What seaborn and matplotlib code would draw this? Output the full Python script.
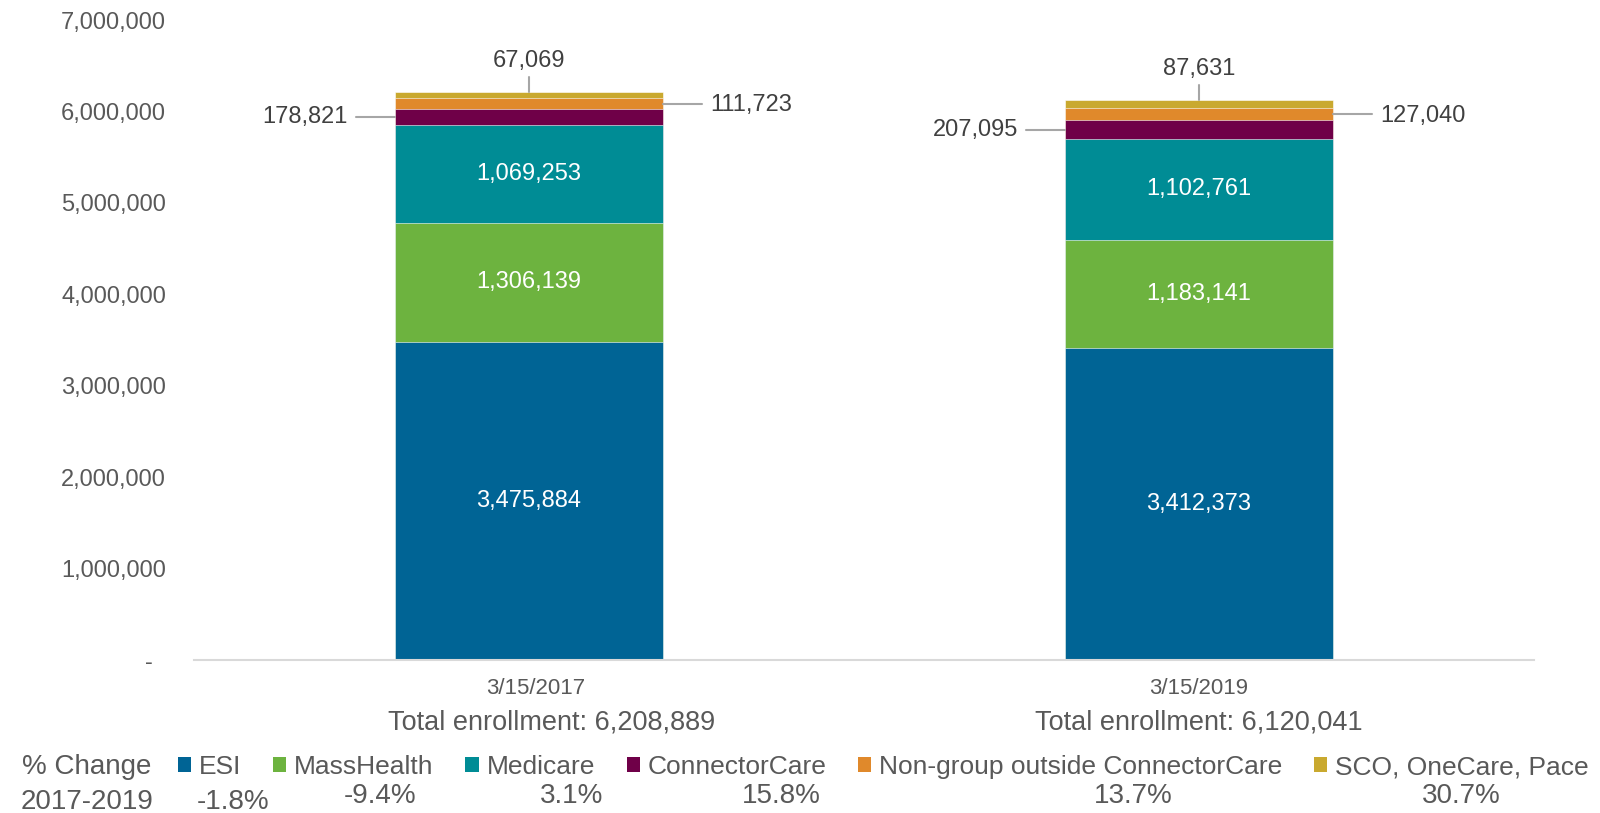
import numpy as np
import pandas as pd
import matplotlib
matplotlib.use("Agg")
import matplotlib.pyplot as plt
import seaborn as sns
from matplotlib.patches import Patch
from matplotlib.ticker import FuncFormatter

# ---------------- data ----------------
dates = ["3/15/2017", "3/15/2019"]
totals_text = ["Total enrollment: 6,208,889", "Total enrollment: 6,120,041"]
segments = ["ESI", "MassHealth", "Medicare", "ConnectorCare",
            "Non-group outside ConnectorCare", "SCO, OneCare, Pace"]
esi = [3475884, 3412373]
masshealth = [1306139, 1183141]
medicare = [1069253, 1102761]
connectorcare = [178821, 207095]
nongroup = [111723, 127040]
sco = [67069, 87631]
pct_change = ["-1.8%", "-9.4%", "3.1%", "15.8%", "13.7%", "30.7%"]
y_ticks = [0, 1000000, 2000000, 3000000, 4000000, 5000000, 6000000, 7000000]

colors = ["#006495", "#6DB33F", "#008C95", "#6F0048", "#E0892B", "#C9A92F"]
text_gray = "#595959"
dark_text = "#404040"
line_gray = "#A6A6A6"

sns.set_theme(style="white")
plt.rcParams["font.family"] = ["Liberation Sans", "DejaVu Sans"]

values = [esi, masshealth, medicare, connectorcare, nongroup, sco]
df = pd.DataFrame({"date": dates})
for name, v in zip(segments, values):
    df[name] = v
cum = df[segments].cumsum(axis=1)

fig = plt.figure(figsize=(16, 8.13), dpi=100)
ax = fig.add_axes([194 / 1600, 1 - 660 / 813, 1340 / 1600, 640 / 813])

# stacked bars: draw cumulative heights from top layer down
for k in range(len(segments) - 1, -1, -1):
    sns.barplot(x=df["date"], y=cum[segments[k]], color=colors[k], width=0.4,
                saturation=1, ax=ax, edgecolor="white", linewidth=0.4,
                order=dates)

ax.set_xlim(-0.5, 1.5)
ax.set_ylim(0, 7000000)
ax.set_yticks(y_ticks)
ax.yaxis.set_major_formatter(FuncFormatter(
    lambda v, p: "-  " if v == 0 else f"{int(v):,}"))
ax.tick_params(axis="y", length=0, pad=20, labelsize=17, labelcolor=text_gray)
ax.set_xticks([0, 1])
ax.set_xticklabels([])
ax.tick_params(axis="x", length=0)
ax.set_xlabel("")
ax.set_ylabel("")
for s in ["top", "right", "left"]:
    ax.spines[s].set_visible(False)
ax.spines["bottom"].set_color("#D9D9D9")
ax.spines["bottom"].set_linewidth(1.5)
ax.grid(False)

# category labels
xt = ax.get_xaxis_transform()
date_dx = [0.01, 0.0]
total_dx = [0.034, 0.0]
for i in range(2):
    ax.text(i + date_dx[i], -0.045, dates[i], transform=xt, ha="center",
            va="center", fontsize=16, color=text_gray)
    ax.text(i + total_dx[i], -0.097, totals_text[i], transform=xt,
            ha="center", va="center", fontsize=19.5, color=text_gray)

# in-bar labels
for i in range(2):
    for k in range(3):
        mid = cum.iloc[i, k] - values[k][i] / 2
        ax.text(i, mid, f"{values[k][i]:,}", ha="center", va="center",
                fontsize=17, color="white")

# leader-line labels
half = 0.2
ll = 0.058
for i in range(2):
    # ConnectorCare (left)
    mid = cum.iloc[i, 3] - connectorcare[i] / 2
    ax.plot([i - half, i - half - ll], [mid, mid], color=line_gray, lw=1.5)
    ax.text(i - half - ll - 0.012, mid, f"{connectorcare[i]:,}", ha="right",
            va="center", fontsize=17, color=dark_text)
    # Non-group (right)
    mid = cum.iloc[i, 4] - nongroup[i] / 2
    ax.plot([i + half, i + half + ll], [mid, mid], color=line_gray, lw=1.5)
    ax.text(i + half + ll + 0.012, mid - 20000, f"{nongroup[i]:,}",
            ha="left", va="center", fontsize=17, color=dark_text)
    # SCO (top)
    top = cum.iloc[i, 5]
    ax.plot([i, i], [top, top + 170000], color=line_gray, lw=1.5)
    ax.text(i, top + 340000, f"{sco[i]:,}", ha="center", va="center",
            fontsize=17, color=dark_text)

# legend row
handles = [Patch(facecolor=c, edgecolor="none") for c in colors]
fig.legend(handles, segments, loc="center left",
           bbox_to_anchor=(178 / 1600, 1 - 767 / 813), ncol=6, frameon=False,
           fontsize=19, handlelength=0.5, handleheight=0.5, handletextpad=0.3,
           columnspacing=1.2, labelcolor=text_gray, borderaxespad=0,
           borderpad=0)

fig.text(87 / 1600, 1 - 767 / 813, "% Change", ha="center", va="center",
         fontsize=20, color=text_gray)
fig.text(87 / 1600, 1 - 802 / 813, "2017-2019", ha="center", va="center",
         fontsize=20, color=text_gray)
pct_x = [233, 380, 572, 781, 1133, 1461]
pct_y = [802, 796, 796, 796, 796, 796]
for t, px, py in zip(pct_change, pct_x, pct_y):
    fig.text(px / 1600, 1 - py / 813, t, ha="center", va="center",
             fontsize=20, color=text_gray)

fig.savefig("out.png", dpi=100)
